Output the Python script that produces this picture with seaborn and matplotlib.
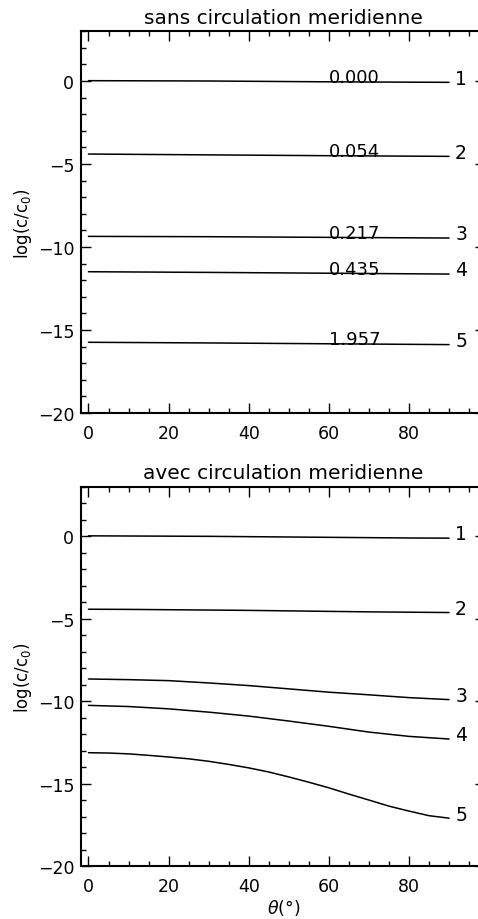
import numpy as np
import pandas as pd
import seaborn as sns
import matplotlib
matplotlib.use("Agg")
import matplotlib.pyplot as plt
from matplotlib.ticker import MultipleLocator

# Colatitude grids (degrees)
theta_top = [0, 30, 60, 90]
theta_bot = [0, 10, 20, 30, 40, 50, 60, 70, 80, 90]
theta_bot5 = [0, 5, 10, 15, 20, 25, 30, 35, 40, 45, 50, 55, 60, 65, 70, 75, 80, 85, 90]

# log(c/c0) without meridional circulation
top_1 = [0.02, 0.00, -0.05, -0.08]
top_2 = [-4.40, -4.45, -4.50, -4.54]
top_3 = [-9.36, -9.38, -9.42, -9.46]
top_4 = [-11.49, -11.53, -11.58, -11.63]
top_5 = [-15.74, -15.78, -15.83, -15.88]

# log(c/c0) with meridional circulation
bot_1 = [0.02, 0.01, 0.00, -0.01, -0.03, -0.05, -0.07, -0.09, -0.11, -0.12]
bot_2 = [-4.43, -4.44, -4.46, -4.48, -4.50, -4.53, -4.56, -4.59, -4.61, -4.63]
bot_3 = [-8.66, -8.70, -8.76, -8.90, -9.06, -9.26, -9.46, -9.62, -9.79, -9.91]
bot_4 = [-10.26, -10.33, -10.47, -10.67, -10.91, -11.21, -11.53, -11.88, -12.14, -12.30]
bot_5 = [-13.13, -13.15, -13.20, -13.29, -13.39, -13.50, -13.65, -13.84, -14.05,
         -14.30, -14.60, -14.92, -15.26, -15.64, -16.00, -16.37, -16.67, -16.95, -17.10]

curve_ids = ["1", "2", "3", "4", "5"]
times = ["0.000", "0.054", "0.217", "0.435", "1.957"]

titles = ["sans circulation meridienne", "avec circulation meridienne"]

sns.set_theme(style="ticks")
plt.rcParams["font.family"] = ["DejaVu Sans"]
plt.rcParams["mathtext.fontset"] = "dejavusans"
plt.rcParams["text.color"] = "black"
plt.rcParams["axes.labelcolor"] = "black"

fig = plt.figure(figsize=(4.78, 9.2), dpi=100)
ax_top = fig.add_axes([0.170, 0.550, 0.845, 0.415])
ax_bot = fig.add_axes([0.170, 0.0576, 0.845, 0.4123])


def long_frame(thetas, series, ids):
    rows = []
    for cid, theta, vals in zip(ids, thetas, series):
        for t, v in zip(theta, vals):
            rows.append({"theta": t, "logc": v, "curve": cid})
    return pd.DataFrame(rows)


df_top = long_frame([theta_top] * 5, [top_1, top_2, top_3, top_4, top_5], curve_ids)
df_bot = long_frame([theta_bot] * 4 + [theta_bot5],
                    [bot_1, bot_2, bot_3, bot_4, bot_5], curve_ids)

black = ["black"] * 5
for ax, df, title in [(ax_top, df_top, titles[0]), (ax_bot, df_bot, titles[1])]:
    sns.lineplot(data=df, x="theta", y="logc", hue="curve", palette=black,
                 linewidth=1.1, legend=False, ax=ax)
    ax.set_xlim(-1.8, 99)
    ax.set_ylim(-20, 3)
    ax.xaxis.set_major_locator(MultipleLocator(20))
    ax.xaxis.set_minor_locator(MultipleLocator(5))
    ax.yaxis.set_major_locator(MultipleLocator(5))
    ax.yaxis.set_minor_locator(MultipleLocator(1))
    ax.tick_params(which="both", direction="in", top=True, right=True,
                   width=1.0, colors="black", labelsize=12.5)
    ax.tick_params(which="major", length=7)
    ax.tick_params(which="minor", length=3.5)
    ax.tick_params(axis="x", which="both", pad=8)
    ax.tick_params(axis="y", which="both", pad=5)
    for s in ax.spines.values():
        s.set_linewidth(1.5)
        s.set_color("black")
    ax.set_title(title, fontsize=14.5, pad=6, color="black")
    ax.set_ylabel("log(c/c$_\\mathregular{0}$)", fontsize=12, labelpad=3)
    ax.set_xlabel("")

    # curve numbers at the right end of each line
    last = df[df["theta"] == df["theta"].max()]
    for cid in curve_ids:
        yv = last.loc[last["curve"] == cid, "logc"].iloc[0]
        ax.annotate(cid, (91.5, yv), xytext=(0, 3), textcoords="offset points",
                    ha="left", va="center", fontsize=13.5)

# elapsed-time labels resting on each line of the upper panel
for cid, lab in zip(curve_ids, times):
    sub = df_top[df_top["curve"] == cid]
    yv = float(np.interp(60, sub["theta"], sub["logc"]))
    ax_top.annotate(lab, (60, yv), xytext=(0, -0.3), textcoords="offset points",
                    ha="left", va="baseline", fontsize=13)

ax_bot.set_xlabel("$\\theta$(°)", fontsize=12.5, labelpad=1)

fig.savefig("out.png", dpi=100)
